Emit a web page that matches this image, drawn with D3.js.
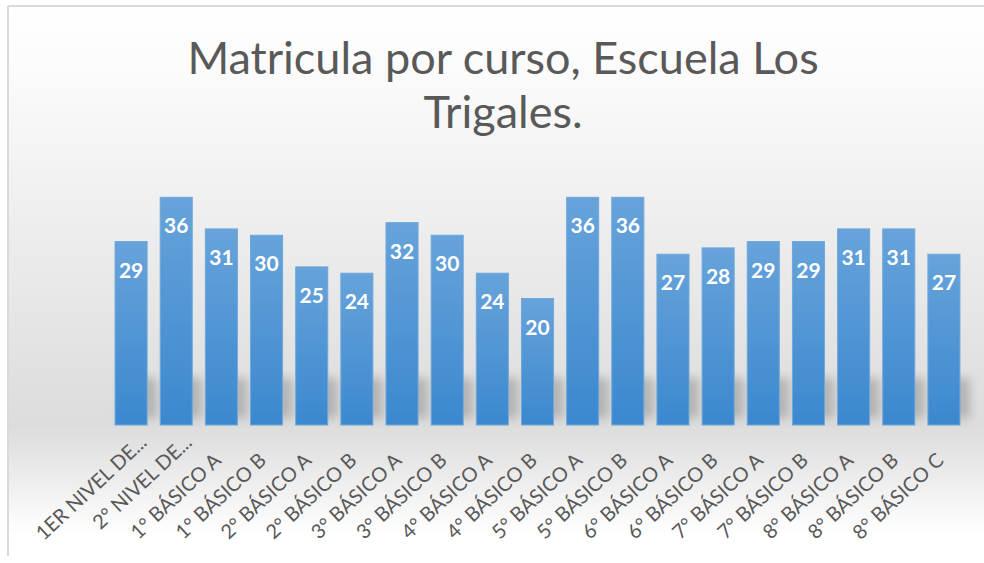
<!DOCTYPE html>
<html>
<head>
<meta charset="utf-8">
<script src="https://cdnjs.cloudflare.com/ajax/libs/d3/7.8.5/d3.min.js"></script>
<style>
  body { margin: 0; background: #fff; }
  svg { display: block; }
</style>
</head>
<body>
<div id="chart"></div>
<script>
// datos
const cursos = ["1ER NIVEL DE...", "2° NIVEL DE...", "1° BÁSICO A", "1° BÁSICO B", "2° BÁSICO A",
  "2° BÁSICO B", "3° BÁSICO A", "3° BÁSICO B", "4° BÁSICO A", "4° BÁSICO B", "5° BÁSICO A",
  "5° BÁSICO B", "6° BÁSICO A", "6° BÁSICO B", "7° BÁSICO A", "7° BÁSICO B", "8° BÁSICO A",
  "8° BÁSICO B", "8° BÁSICO C"]
const matricula = [29, 36, 31, 30, 25, 24, 32, 30, 24, 20, 36, 36, 27, 28, 29, 29, 31, 31, 27]
const titulo = ["Matricula por curso, Escuela Los", "Trigales."]

const width = 984, height = 563
const fuente = "Lato, 'Open Sans', sans-serif"

const svg = d3.select('#chart').append('svg')
  .attr('width', width)
  .attr('height', height)

const defs = svg.append('defs')

// fondo degradado del gráfico
const fondo = defs.append('linearGradient').attr('id', 'fondo')
  .attr('x1', 0).attr('y1', 0).attr('x2', 0).attr('y2', 1)
fondo.append('stop').attr('offset', '0').attr('stop-color', '#ffffff')
fondo.append('stop').attr('offset', '0.12').attr('stop-color', '#fbfbfb')
fondo.append('stop').attr('offset', '0.76').attr('stop-color', '#dcdcdc')
fondo.append('stop').attr('offset', '0.80').attr('stop-color', '#e2e2e2')
fondo.append('stop').attr('offset', '0.96').attr('stop-color', '#ffffff')

// degradado de las barras
const azul = defs.append('linearGradient').attr('id', 'azul')
  .attr('x1', 0).attr('y1', 0).attr('x2', 0).attr('y2', 1)
azul.append('stop').attr('offset', '0').attr('stop-color', '#67a3da')
azul.append('stop').attr('offset', '1').attr('stop-color', '#3b88cf')

// sombra
defs.append('filter').attr('id', 'blur')
  .attr('x', '-50%').attr('y', '-50%').attr('width', '200%').attr('height', '200%')
  .append('feGaussianBlur').attr('stdDeviation', 5)

svg.append('rect')
  .attr('x', 8).attr('y', 6)
  .attr('width', width).attr('height', 550)
  .attr('fill', 'url(#fondo)')
svg.append('line').attr('x1', 8).attr('y1', 6).attr('x2', width).attr('y2', 6)
  .attr('stroke', '#d9d9d9').attr('stroke-width', 2)
svg.append('line').attr('x1', 8).attr('y1', 6).attr('x2', 8).attr('y2', 556)
  .attr('stroke', '#d9d9d9').attr('stroke-width', 2)

// título
svg.append('text')
  .attr('text-anchor', 'middle')
  .attr('fill', '#595959')
  .style('font-family', fuente)
  .style('font-size', '45px')
  .selectAll('tspan')
  .data(titulo)
  .join('tspan')
  .attr('x', 503)
  .attr('y', (d, i) => 74 + i * 54)
  .text(d => d)

// escalas
const xScale = d3.scaleBand()
  .domain(cursos)
  .range([108.5, 966.5])
  .paddingInner(0.29)
  .paddingOuter(0.145)

const yScale = d3.scaleLinear()
  .domain([0, 40])
  .range([425, 172])

const g = svg.append('g')

// sombras bajo las barras
g.selectAll('.sombra')
  .data(matricula)
  .join('rect')
  .attr('class', 'sombra')
  .attr('x', (d, i) => xScale(cursos[i]) + 6)
  .attr('y', 378)
  .attr('width', xScale.bandwidth() + 4)
  .attr('height', 40)
  .attr('fill', '#8a8a8a')
  .attr('opacity', 0.5)
  .attr('filter', 'url(#blur)')

// barras
g.selectAll('.bar')
  .data(matricula)
  .join('rect')
  .attr('class', 'bar')
  .attr('x', (d, i) => xScale(cursos[i]))
  .attr('y', d => yScale(d))
  .attr('width', xScale.bandwidth())
  .attr('height', d => yScale(0) - yScale(d))
  .attr('fill', 'url(#azul)')
  .attr('stroke', '#6fa8dc')
  .attr('stroke-width', 1)

// etiquetas de datos
g.selectAll('.valor')
  .data(matricula)
  .join('text')
  .attr('class', 'valor')
  .attr('x', (d, i) => xScale(cursos[i]) + xScale.bandwidth() / 2)
  .attr('y', d => yScale(d) + 36)
  .attr('text-anchor', 'middle')
  .attr('fill', '#ffffff')
  .style('font-family', fuente)
  .style('font-weight', 'bold')
  .style('font-size', '21px')
  .text(d => d)

// eje x (las etiquetas recortadas quedan algo más arriba, como en Excel)
const xAxis = d3.axisBottom(xScale).tickSize(0).tickPadding(0)
const ejeX = svg.append('g')
  .attr('transform', `translate(0,${yScale(0)})`)
  .call(xAxis)
ejeX.select('.domain').remove()
ejeX.selectAll('text')
  .attr('text-anchor', 'end')
  .attr('fill', '#595959')
  .attr('dy', 0)
  .attr('y', 0)
  .attr('transform', d => d.endsWith('...') ? 'translate(17,19) rotate(-43)' : 'translate(1,37) rotate(-43)')
  .style('font-family', fuente)
  .style('font-size', '20px')
</script>
</body>
</html>
